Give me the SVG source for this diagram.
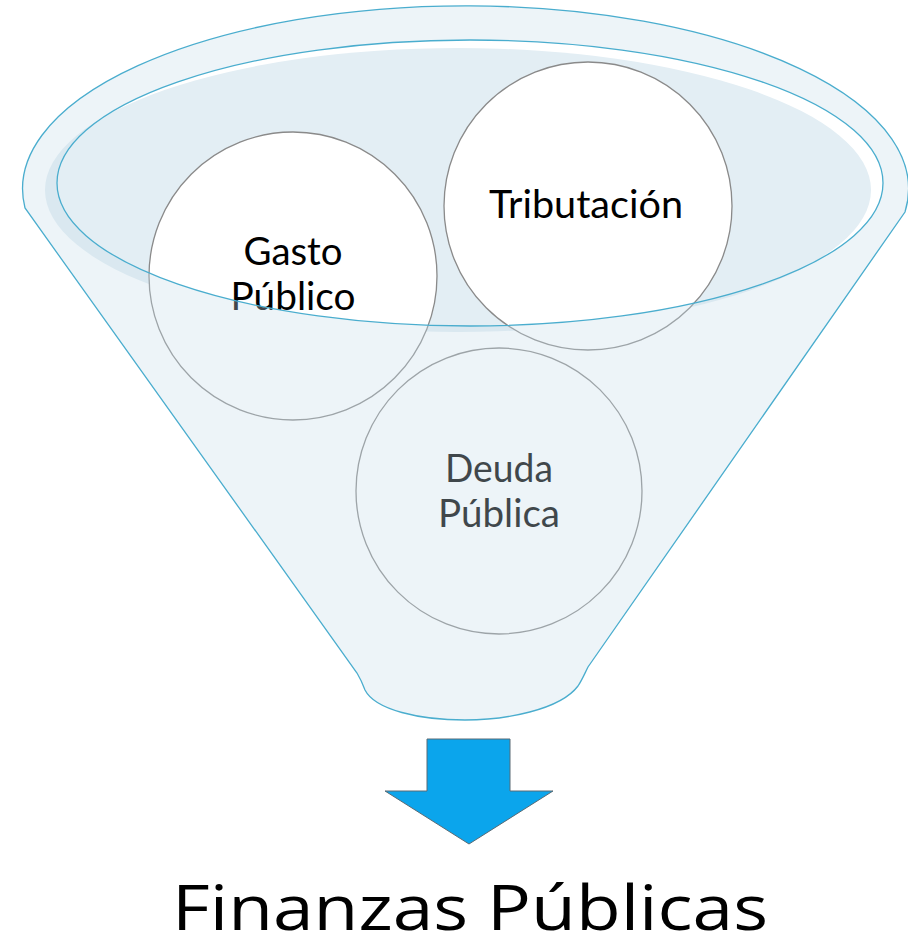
<svg xmlns="http://www.w3.org/2000/svg" width="908" height="950" viewBox="0 0 908 950">
<defs>
<style>
.rim{fill:none;stroke:#4AADCE;stroke-width:1.3}
.circ{fill:#ffffff;stroke:#8A8A8A;stroke-width:1.3}
.lbl{font-family:Lato,"Open Sans","Liberation Sans",sans-serif;font-size:38px;fill:#000000;text-anchor:middle}
.title{font-family:"Open Sans",Lato,"Liberation Sans",sans-serif;font-size:63px;fill:#000000;text-anchor:middle}
</style>
</defs>
<rect width="908" height="950" fill="#ffffff"/>
<g id="funnel-back">
<ellipse cx="470" cy="183" rx="413" ry="143" fill="#ffffff"/>
<ellipse cx="458" cy="190" rx="413" ry="142" fill="#E3EEF4"/>
</g>
<g id="gasto">
<circle class="circ" cx="293" cy="276" r="144"/>
<text class="lbl" x="293" y="265" textLength="99" lengthAdjust="spacingAndGlyphs">Gasto</text>
<text class="lbl" x="293" y="310" textLength="125" lengthAdjust="spacingAndGlyphs">Público</text>
</g>
<g id="tributacion">
<circle class="circ" cx="588" cy="206" r="144"/>
<text class="lbl" x="586" y="218" textLength="194" lengthAdjust="spacingAndGlyphs">Tributación</text>
</g>
<g id="deuda">
<circle class="circ" cx="499" cy="491" r="143"/>
<text class="lbl" x="499" y="482" textLength="108" lengthAdjust="spacingAndGlyphs">Deuda</text>
<text class="lbl" x="499" y="527" textLength="122" lengthAdjust="spacingAndGlyphs">Pública</text>
</g>
<g id="funnel-front">
<path d="M25,208 A443,183 0 1 1 905,212 L588,667 C584,675 582,680 578,686 C560,710 505,720 465,720 C420,720 375,710 365,690 C362,682 360,678 357,673 Z M57,183 A413,143 0 1 0 883,183 A413,143 0 1 0 57,183 Z" fill="#C8DDE8" fill-opacity="0.32" fill-rule="evenodd"/>
<path class="rim" d="M25,208 A443,183 0 1 1 905,212 L588,667 C584,675 582,680 578,686 C560,710 505,720 465,720 C420,720 375,710 365,690 C362,682 360,678 357,673 Z"/>
<ellipse class="rim" cx="470" cy="183" rx="413" ry="143"/>
</g>
<g id="connectors">
<path d="M427,739 L510,739 L510,791 L553,791 L469,844 L385,791 L427,791 Z" fill="#0BA5EC" stroke="#5A6B75" stroke-width="1"/>
</g>
<g id="title">
<text class="title" x="470" y="930" textLength="596" lengthAdjust="spacingAndGlyphs">Finanzas Públicas</text>
</g>
</svg>
